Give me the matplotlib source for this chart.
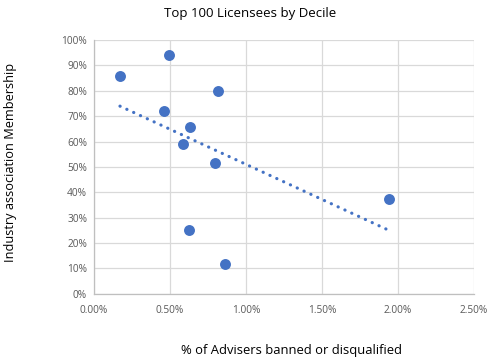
import numpy as np
import matplotlib
matplotlib.use("Agg")
import matplotlib.pyplot as plt
from matplotlib.ticker import FuncFormatter

# % of advisers banned or disqualified (x) vs industry association membership (y)
pct_banned = [0.171, 0.496, 0.818, 0.460, 0.634, 0.588, 0.798, 1.943, 0.625, 0.862]
membership = [86.0, 94.0, 80.0, 71.9, 65.6, 59.1, 51.4, 37.5, 25.2, 11.7]

x_ticks = [0.0, 0.5, 1.0, 1.5, 2.0, 2.5]
y_ticks = list(range(0, 101, 10))

blue = "#4472C4"
grid_col = "#d9d9d9"
tick_col = "#595959"

plt.rcParams["font.family"] = ["Open Sans", "DejaVu Sans"]

fig = plt.figure(figsize=(5.0, 3.61), dpi=100)
ax = fig.add_axes([0.188, 0.186, 0.76, 0.703])

ax.scatter(pct_banned, membership, s=62, color=blue, zorder=3, linewidths=0)

# linear trendline across data range
slope, icpt = np.polyfit(pct_banned, membership, 1)
xs = np.array([min(pct_banned), max(pct_banned)])
ax.plot(xs, slope * xs + icpt, color=blue, linestyle=(0, (0.05, 2.3)),
        linewidth=2.3, zorder=2, dash_capstyle="round")

ax.set_xlim(0, 2.5)
ax.set_ylim(0, 100)
ax.set_xticks(x_ticks)
ax.set_yticks(y_ticks)
ax.xaxis.set_major_formatter(FuncFormatter(lambda v, p: f"{v:.2f}%"))
ax.yaxis.set_major_formatter(FuncFormatter(lambda v, p: f"{v:.0f}%"))
ax.tick_params(axis="both", length=0, labelsize=7.3, colors=tick_col)
ax.tick_params(axis="x", pad=8)
ax.tick_params(axis="y", pad=5)

ax.grid(True, color=grid_col, linewidth=0.9)
ax.set_axisbelow(True)
for side in ["top", "right"]:
    ax.spines[side].set_visible(False)
for side in ["left", "bottom"]:
    ax.spines[side].set_color("#bfbfbf")
    ax.spines[side].set_linewidth(0.9)

fig.text(0.5, 0.963, "Top 100 Licensees by Decile", ha="center", va="center",
         fontsize=9.5, color="black")
fig.text(0.583, 0.03, "% of Advisers banned or disqualified", ha="center",
         va="center", fontsize=9.4, color="black")
fig.text(0.022, 0.551, "Industry association Membership", ha="center",
         va="center", rotation=90, fontsize=9.2, color="black")

fig.savefig("out.png", dpi=100)
